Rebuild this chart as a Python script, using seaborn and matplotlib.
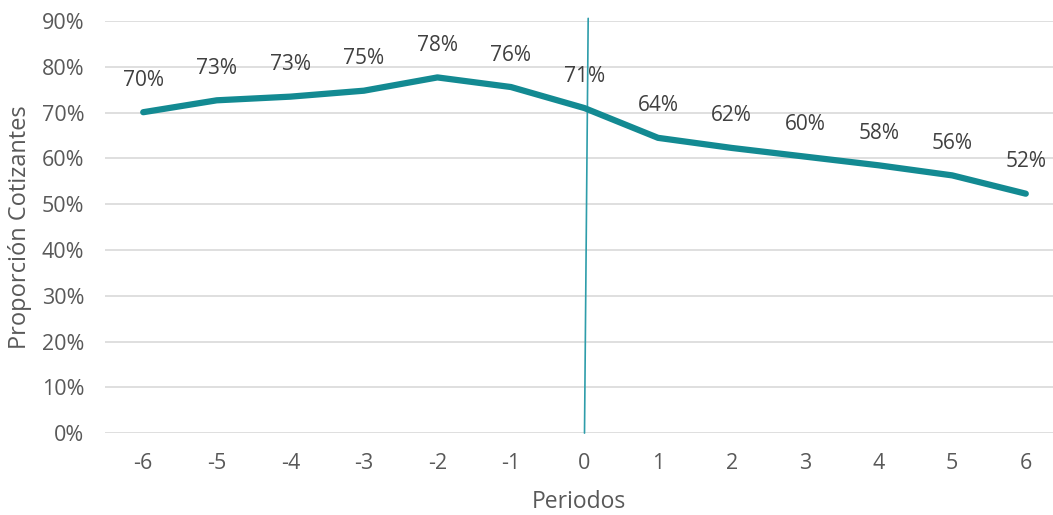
import matplotlib
matplotlib.use("Agg")
import matplotlib.pyplot as plt
import seaborn as sns
import pandas as pd
from matplotlib.ticker import PercentFormatter

periodos = [-6, -5, -4, -3, -2, -1, 0, 1, 2, 3, 4, 5, 6]
proporcion = [70.1, 72.7, 73.5, 74.8, 77.7, 75.6, 71.0, 64.5, 62.3, 60.4, 58.5, 56.3, 52.3]
etiquetas = ["70%", "73%", "73%", "75%", "78%", "76%", "71%", "64%", "62%", "60%", "58%", "56%", "52%"]

df = pd.DataFrame({"Periodos": periodos, "Proporcion": proporcion})

sns.set_theme(style="white")
plt.rcParams["font.family"] = ["Open Sans", "DejaVu Sans"]
plt.rcParams["axes.unicode_minus"] = False

fig = plt.figure(figsize=(10.53, 5.15), dpi=100)
ax = fig.add_axes([0.0997, 0.159, 0.9003, 0.8])

sns.lineplot(x="Periodos", y="Proporcion", data=df, color="#138A92", linewidth=4.5, ax=ax, zorder=3)

# vertical reference line at period 0 (slightly slanted as in original)
ax.plot([0.0, 0.05], [0.0, 90.6], color="#2E9DAA", linewidth=1.2, zorder=2, clip_on=False)

for x, y, t in zip(periodos, proporcion, etiquetas):
    ax.annotate(t, (x, y), xytext=(0, 23), textcoords="offset points", ha="center", va="center",
                fontsize=15, color="#404040")

ax.set_xlim(-6.52, 6.37)
ax.set_ylim(0, 90)
ax.set_xticks(periodos)
ax.set_yticks(range(0, 91, 10))
ax.yaxis.set_major_formatter(PercentFormatter(decimals=0))
ax.grid(axis="y", color="#D9D9D9", linewidth=1.2)
ax.set_axisbelow(True)
for s in ax.spines.values():
    s.set_visible(False)
ax.tick_params(axis="both", length=0, labelsize=15.5, labelcolor="#595959")
ax.tick_params(axis="x", pad=14)
ax.tick_params(axis="y", pad=15)
ax.set_xlabel("Periodos", fontsize=16.5, color="#595959", labelpad=12)
ax.set_ylabel("Proporción Cotizantes", fontsize=17, color="#595959", labelpad=7)

fig.savefig("out.png", dpi=100)
